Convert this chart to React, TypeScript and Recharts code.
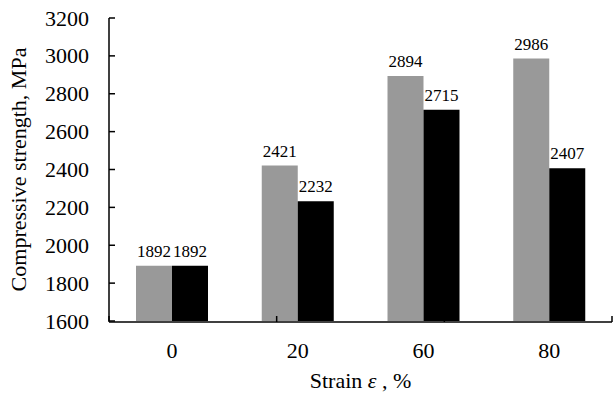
import { BarChart, Bar, XAxis, YAxis, LabelList } from 'recharts';

const strains = ['0', '20', '60', '80'];
const strengthA = [1892, 2421, 2894, 2986];
const strengthB = [1892, 2232, 2715, 2407];
const yTicks = [1600, 1800, 2000, 2200, 2400, 2600, 2800, 3000, 3200];
const bandTicks = [0, 1, 2, 3, 4];

const data = strains.map((strain, i) => ({
    strain,
    a: strengthA[i],
    b: strengthB[i],
}));

const FONT = 'Liberation Serif';
const textStyle = { fontFamily: FONT };

// x title with an italic epsilon
const XTitle = (props: any) => {
    const { viewBox } = props;
    const cx = viewBox.x + viewBox.width / 2;
    return (
        <text x={cx} y={388} textAnchor="middle" fontSize={22} style={textStyle} fill="#000">
            Strain <tspan fontStyle="italic">ε</tspan> , %
        </text>
    );
};

const YTitle = (props: any) => {
    const { viewBox } = props;
    const x = viewBox.x + 18;
    const y = viewBox.y + viewBox.height / 2;
    return (
        <text
            x={x}
            y={y}
            transform={`rotate(-90, ${x}, ${y})`}
            textAnchor="middle"
            dominantBaseline="central"
            fontSize={22}
            style={textStyle}
            fill="#000"
        >
            Compressive strength, MPa
        </text>
    );
};

const YTick = ({ x, y, payload }: any) => (
    <text x={x} y={y} textAnchor="end" dominantBaseline="central" fontSize={22} style={textStyle} fill="#000">
        {payload.value}
    </text>
);

const XTick = ({ x, payload }: any) => (
    <text x={x} y={358} textAnchor="middle" fontSize={22} style={textStyle} fill="#000">
        {payload.value}
    </text>
);

const App = () => {
    return (
        <div style={{ position: 'absolute', left: 0, top: 0, background: '#fff' }}>
            <BarChart
                width={613}
                height={394}
                data={data}
                margin={{ top: 18, right: 1, left: 0, bottom: 71 }}
                barGap={0}
            >
                {/* boundary ticks between categories */}
                <XAxis
                    xAxisId="band"
                    type="number"
                    domain={[0, 4]}
                    ticks={bandTicks}
                    interval={0}
                    allowDataOverflow
                    height={1}
                    tickSize={-6}
                    tick={() => <g />}
                    axisLine={{ stroke: '#000', strokeWidth: 1.5 }}
                    tickLine={{ stroke: '#000', strokeWidth: 1.5 }}
                />
                <XAxis
                    dataKey="strain"
                    height={1}
                    axisLine={false}
                    tickLine={false}
                    interval={0}
                    tick={<XTick />}
                    label={<XTitle />}
                />
                <YAxis
                    width={109}
                    domain={[1600, 3200]}
                    ticks={yTicks}
                    interval={0}
                    allowDataOverflow
                    tickSize={-6}
                    tickMargin={26}
                    axisLine={{ stroke: '#000', strokeWidth: 1.5 }}
                    tickLine={{ stroke: '#000', strokeWidth: 1.5 }}
                    tick={<YTick />}
                    label={<YTitle />}
                />
                <Bar dataKey="a" fill="#999999" barSize={36} isAnimationActive={false}>
                    <LabelList dataKey="a" position="top" offset={9} fontSize={17} fill="#000" style={textStyle} />
                </Bar>
                <Bar dataKey="b" fill="#000000" barSize={36} isAnimationActive={false}>
                    <LabelList dataKey="b" position="top" offset={9} fontSize={17} fill="#000" style={textStyle} />
                </Bar>
            </BarChart>
        </div>
    );
};

export default App;
